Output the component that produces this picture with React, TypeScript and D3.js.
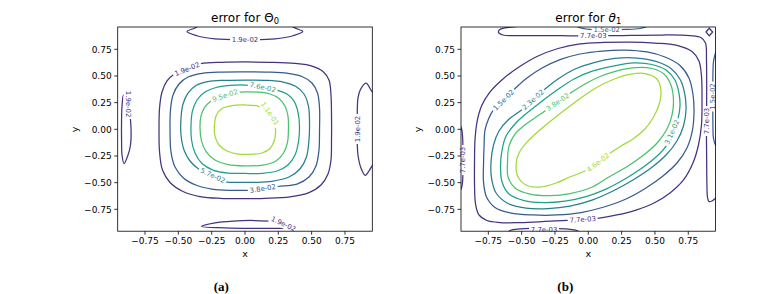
import React from 'react';
import * as d3 from 'd3';

type Pt = [number, number];

// ---------- shared axis data ----------
const xTicks = [-0.75, -0.5, -0.25, 0, 0.25, 0.5, 0.75];
const yTicks = [-0.75, -0.5, -0.25, 0, 0.25, 0.5, 0.75];
const xDomain: Pt = [-0.955, 0.955];
const yDomain: Pt = [-0.955, 0.959];

// ---------- panel (a): error for Theta_0 ----------
const levelsA = [0.019, 0.038, 0.057, 0.076, 0.095, 0.114];
const levelTextA = ['1.9e-02', '3.8e-02', '5.7e-02', '7.6e-02', '9.5e-02', '1.1e-01'];
const vmaxA = 0.133;

const a_c1: Pt[] = [[0, 0.631], [0.1875, 0.628], [0.375, 0.617], [0.5025, 0.593], [0.585, 0.542], [0.63, 0.462], [0.645, 0.322], [0.649, 0.134], [0.649, -0.1], [0.645, -0.288], [0.6225, -0.419], [0.57, -0.522], [0.48, -0.593], [0.3375, -0.633], [0.15, -0.647], [0, -0.65], [-0.1875, -0.647], [-0.3375, -0.63], [-0.465, -0.583], [-0.5625, -0.499], [-0.619, -0.382], [-0.641, -0.213], [-0.645, -0.007], [-0.641, 0.2], [-0.6225, 0.35], [-0.585, 0.453], [-0.525, 0.523], [-0.435, 0.575], [-0.33, 0.616], [-0.1725, 0.628]];
const a_c2: Pt[] = [[0, 0.539], [0.1725, 0.537], [0.3225, 0.525], [0.4275, 0.495], [0.5025, 0.434], [0.544, 0.34], [0.559, 0.2], [0.559, -0.007], [0.555, -0.194], [0.5325, -0.344], [0.48, -0.447], [0.39, -0.513], [0.2475, -0.536], [0.1275, -0.555], [0, -0.572], [-0.1125, -0.572], [-0.2475, -0.56], [-0.36, -0.527], [-0.4575, -0.461], [-0.525, -0.353], [-0.555, -0.213], [-0.5625, -0.007], [-0.559, 0.181], [-0.54, 0.322], [-0.495, 0.425], [-0.4275, 0.49], [-0.3225, 0.525], [-0.1725, 0.537]];
const a_c3: Pt[] = [[0, 0.462], [0.15, 0.459], [0.285, 0.443], [0.3825, 0.401], [0.4425, 0.331], [0.476, 0.218], [0.484, 0.068], [0.48, -0.1], [0.461, -0.26], [0.4125, -0.372], [0.33, -0.447], [0.2025, -0.487], [0.075, -0.497], [-0.0375, -0.497], [-0.1425, -0.492], [-0.242, -0.433], [-0.345, -0.374], [-0.4125, -0.297], [-0.4575, -0.194], [-0.48, -0.053], [-0.48, 0.106], [-0.465, 0.237], [-0.4275, 0.34], [-0.3675, 0.411], [-0.2775, 0.448], [-0.15, 0.459]];
const a_c4: Pt[] = [[0, 0.415], [0.133, 0.395], [0.243, 0.366], [0.315, 0.331], [0.3675, 0.265], [0.3975, 0.162], [0.409, 0.022], [0.401, -0.119], [0.375, -0.241], [0.3225, -0.335], [0.24, -0.391], [0.1275, -0.4125], [0, -0.414], [-0.1275, -0.41], [-0.24, -0.382], [-0.3225, -0.321], [-0.375, -0.222], [-0.401, -0.1], [-0.405, 0.04], [-0.394, 0.172], [-0.36, 0.275], [-0.3, 0.35], [-0.2175, 0.392], [-0.1125, 0.411]];
const a_c5: Pt[] = [[0, 0.35], [0.0975, 0.348], [0.1875, 0.331], [0.255, 0.289], [0.3, 0.218], [0.3225, 0.125], [0.326, 0.012], [0.319, -0.119], [0.289, -0.222], [0.2325, -0.297], [0.135, -0.335], [0, -0.342], [-0.1275, -0.33], [-0.225, -0.288], [-0.289, -0.213], [-0.326, -0.11], [-0.3375, 0.012], [-0.33, 0.125], [-0.304, 0.204], [-0.255, 0.265], [-0.195, 0.3075], [-0.1125, 0.338]];
const a_c6: Pt[] = [[0, 0.228], [0.0975, 0.218], [0.165, 0.181], [0.21, 0.106], [0.229, 0.003], [0.221, -0.1], [0.1875, -0.18], [0.1275, -0.222], [0.0375, -0.234], [-0.0525, -0.232], [-0.135, -0.203], [-0.195, -0.147], [-0.225, -0.063], [-0.229, 0.04], [-0.214, 0.134], [-0.1725, 0.195], [-0.0975, 0.223]];
const a_top: Pt[] = [[-0.2775, 1.043], [-0.3675, 0.954], [-0.435, 0.917], [-0.36, 0.877], [-0.225, 0.848], [0, 0.841], [0.225, 0.848], [0.36, 0.877], [0.433, 0.917], [0.3675, 0.954], [0.2775, 1.043]];
const a_bottom: Pt[] = [[-0.326, -0.911], [-0.225, -0.877], [-0.09, -0.86], [0.075, -0.855], [0.2025, -0.864], [0.3, -0.8925], [0.3525, -0.921], [0.225, -0.928], [0.0375, -0.928], [-0.15, -0.923]];
const a_left: Pt[] = [[-0.911, 0.322], [-0.885, 0.247], [-0.866, 0.153], [-0.855, 0.012], [-0.859, -0.147], [-0.8775, -0.241], [-0.9075, -0.321], [-0.9225, -0.241], [-0.926, -0.1], [-0.926, 0.087], [-0.9225, 0.218]];
const a_right: Pt[] = [[0.9975, 0.293], [0.9525, 0.354], [0.9075, 0.434], [0.866, 0.373], [0.8475, 0.293], [0.842, 0.134], [0.842, 0.003], [0.842, -0.128], [0.8475, -0.241], [0.87, -0.363], [0.902, -0.431], [0.934, -0.382], [0.9525, -0.344], [0.9975, -0.278]];

const contoursA = [
  { level: 0, pts: a_c1, shape: 'closed' },
  { level: 1, pts: a_c2, shape: 'closed' },
  { level: 2, pts: a_c3, shape: 'closed' },
  { level: 3, pts: a_c4, shape: 'closed' },
  { level: 4, pts: a_c5, shape: 'closed' },
  { level: 5, pts: a_c6, shape: 'closed' },
  { level: 0, pts: a_top, shape: 'open' },
  { level: 0, pts: a_bottom, shape: 'closed' },
  { level: 0, pts: a_left, shape: 'closed' },
  { level: 0, pts: a_right, shape: 'open' },
];
const labelsA = [
  { line: 0, at: [-0.435, 0.565] as Pt, angle: -22 },
  { line: 1, at: [0.133, -0.555] as Pt, angle: -9 },
  { line: 2, at: [-0.242, -0.433] as Pt, angle: 25 },
  { line: 3, at: [0.133, 0.395] as Pt, angle: 12 },
  { line: 4, at: [-0.15, 0.317] as Pt, angle: -19 },
  { line: 5, at: [0.1875, 0.148] as Pt, angle: 55 },
  { line: 6, at: [0, 0.84] as Pt, angle: 0 },
  { line: 7, at: [0.289, -0.886] as Pt, angle: 25 },
  { line: 8, at: [-0.8775, 0.237] as Pt, angle: 90 },
  { line: 9, at: [0.842, 0.003] as Pt, angle: -90 },
];

// ---------- panel (b): error for theta_1 ----------
const levelsB = [0.0077, 0.0154, 0.0231, 0.0308, 0.0385, 0.0462];
const levelTextB = ['7.7e-03', '1.5e-02', '2.3e-02', '3.1e-02', '3.8e-02', '4.6e-02'];
const vmaxB = 0.0539;

const b_m1: Pt[] = [[-0.1545, -0.853], [-0.325, -0.864], [-0.512, -0.874], [-0.662, -0.874], [-0.76, -0.855], [-0.82, -0.803], [-0.846, -0.7], [-0.8535, -0.522], [-0.8535, -0.288], [-0.85, -0.1], [-0.835, 0.068], [-0.801, 0.218], [-0.737, 0.35], [-0.64, 0.472], [-0.52, 0.584], [-0.385, 0.6825], [-0.227, 0.7575], [-0.062, 0.8], [0.118, 0.814], [0.313, 0.818], [0.5, 0.809], [0.658, 0.79], [0.778, 0.729], [0.83, 0.64], [0.849, 0.5], [0.853, 0.275], [0.849, 0.04], [0.8265, -0.147], [0.785, -0.316], [0.714, -0.475], [0.613, -0.597], [0.493, -0.691], [0.358, -0.757], [0.215, -0.803], [0.0705, -0.834], [-0.042, -0.844]];
const b_m2: Pt[] = [[-0.5565, 0.374], [-0.46, 0.481], [-0.347, 0.575], [-0.212, 0.654], [-0.062, 0.706], [0.103, 0.734], [0.275, 0.743], [0.44, 0.725], [0.575, 0.678], [0.688, 0.598], [0.755, 0.481], [0.785, 0.331], [0.793, 0.162], [0.7815, -0.007], [0.74, -0.175], [0.665, -0.316], [0.56, -0.438], [0.433, -0.55], [0.283, -0.653], [0.118, -0.728], [-0.055, -0.78], [-0.235, -0.803], [-0.415, -0.803], [-0.58, -0.785], [-0.7, -0.733], [-0.7635, -0.635], [-0.786, -0.494], [-0.786, -0.325], [-0.782, -0.157], [-0.775, -0.007], [-0.7485, 0.097], [-0.7155, 0.175], [-0.636, 0.275]];
const b_m3: Pt[] = [[-0.3315, 0.371], [-0.227, 0.472], [-0.107, 0.561], [0.043, 0.626], [0.2, 0.664], [0.365, 0.668], [0.508, 0.636], [0.62, 0.57], [0.6915, 0.462], [0.725, 0.322], [0.733, 0.181], [0.714, 0.031], [0.665, -0.11], [0.583, -0.241], [0.47, -0.363], [0.335, -0.475], [0.185, -0.578], [0.028, -0.663], [-0.137, -0.719], [-0.302, -0.7425], [-0.467, -0.738], [-0.602, -0.696], [-0.692, -0.597], [-0.726, -0.457], [-0.73, -0.307], [-0.711, -0.147], [-0.67, -0.016], [-0.602, 0.087], [-0.498, 0.184], [-0.415, 0.2775]];
const b_m4: Pt[] = [[0.583, -0.157], [0.508, -0.26], [0.403, -0.363], [0.275, -0.466], [0.133, -0.56], [-0.017, -0.63], [-0.175, -0.672], [-0.332, -0.686], [-0.482, -0.6675], [-0.595, -0.607], [-0.647, -0.494], [-0.6585, -0.344], [-0.647, -0.194], [-0.617, -0.063], [-0.55, 0.05], [-0.46, 0.153], [-0.355, 0.256], [-0.235, 0.368], [-0.107, 0.472], [0.035, 0.547], [0.185, 0.593], [0.343, 0.622], [0.478, 0.6075], [0.583, 0.556], [0.65, 0.462], [0.68, 0.34], [0.688, 0.218], [0.673, 0.103], [0.628, -0.025]];
const b_m5: Pt[] = [[-0.137, 0.337], [-0.025, 0.425], [0.088, 0.495], [0.223, 0.551], [0.358, 0.579], [0.478, 0.57], [0.568, 0.518], [0.62, 0.415], [0.639, 0.275], [0.628, 0.134], [0.59, 0.003], [0.523, -0.119], [0.425, -0.232], [0.298, -0.344], [0.155, -0.447], [0.013, -0.55], [-0.137, -0.602], [-0.287, -0.621], [-0.437, -0.607], [-0.55, -0.55], [-0.602, -0.447], [-0.606, -0.307], [-0.595, -0.157], [-0.55, -0.044], [-0.467, 0.05], [-0.392, 0.115], [-0.322, 0.175], [-0.2295, 0.256]];
const b_m6: Pt[] = [[0.17, -0.2175], [0.245, -0.157], [0.335, -0.091], [0.425, 0.003], [0.485, 0.106], [0.53, 0.228], [0.545, 0.359], [0.515, 0.472], [0.425, 0.523], [0.3125, 0.514], [0.178, 0.462], [0.043, 0.378], [-0.107, 0.247], [-0.235, 0.125], [-0.355, 0.003], [-0.4525, -0.11], [-0.52, -0.222], [-0.542, -0.335], [-0.527, -0.447], [-0.46, -0.527], [-0.362, -0.541], [-0.242, -0.503], [-0.13, -0.4425], [-0.025, -0.391], [0.073, -0.311]];
const b_top1: Pt[] = [[-0.325, 1.006], [-0.512, 0.968], [-0.625, 0.95], [-0.666, 0.933], [-0.6735, 0.9075], [-0.64, 0.884], [-0.437, 0.879], [-0.212, 0.877], [0.035, 0.875], [0.238, 0.879], [0.538, 0.884], [0.763, 0.879], [0.845, 0.861], [0.879, 0.809], [0.8865, 0.65], [0.888, 0.462], [0.888, 0.275], [0.8865, 0.078], [0.8865, -0.1], [0.888, -0.288], [0.89, -0.522], [0.894, -0.635], [0.905, -0.677], [0.928, -0.672], [0.958, -0.644], [1.003, -0.607]];
const b_top2: Pt[] = [[-0.122, 1.006], [-0.077, 0.959], [0.013, 0.936], [0.138, 0.936], [0.275, 0.936], [0.388, 0.945], [0.463, 0.978], [0.508, 1.015]];
const b_corner: Pt[] = [[0.883, 0.912], [0.9075, 0.947], [0.933, 0.912], [0.9075, 0.8775]];
const b_right2: Pt[] = [[1.003, 0.79], [0.958, 0.725], [0.939, 0.631], [0.935, 0.509], [0.934, 0.406], [0.933, 0.3075], [0.934, 0.2], [0.935, 0.04], [0.939, -0.082], [0.958, -0.157], [1.003, -0.213]];
const b_left1: Pt[] = [[-1.0, 0.087], [-0.955, 0.022], [-0.943, -0.072], [-0.941, -0.194], [-0.941, -0.288], [-0.941, -0.4], [-0.9435, -0.494], [-0.955, -0.56], [-1.0, -0.616]];
const b_bottom1: Pt[] = [[-0.64, -1.019], [-0.587, -0.949], [-0.512, -0.933], [-0.422, -0.929], [-0.332, -0.93], [-0.235, -0.931], [-0.137, -0.9375], [-0.077, -0.953], [-0.025, -1.019]];

const contoursB = [
  { level: 0, pts: b_m1, shape: 'closed' },
  { level: 1, pts: b_m2, shape: 'closed' },
  { level: 2, pts: b_m3, shape: 'closed' },
  { level: 3, pts: b_m4, shape: 'closed' },
  { level: 4, pts: b_m5, shape: 'closed' },
  { level: 5, pts: b_m6, shape: 'closed' },
  { level: 0, pts: b_top1, shape: 'open' },
  { level: 1, pts: b_top2, shape: 'open' },
  { level: 0, pts: b_corner, shape: 'poly' },
  { level: 1, pts: b_right2, shape: 'open' },
  { level: 0, pts: b_left1, shape: 'open' },
  { level: 0, pts: b_bottom1, shape: 'open' },
];
const labelsB = [
  { line: 0, at: [-0.042, -0.844] as Pt, angle: -4 },
  { line: 1, at: [-0.636, 0.275] as Pt, angle: -45 },
  { line: 2, at: [-0.415, 0.2775] as Pt, angle: -42 },
  { line: 3, at: [0.628, -0.025] as Pt, angle: -66 },
  { line: 4, at: [-0.2295, 0.256] as Pt, angle: -35 },
  { line: 5, at: [0.073, -0.311] as Pt, angle: -37.5 },
  { line: 6, at: [0.0375, 0.875] as Pt, angle: 0 },
  { line: 6, at: [0.8865, 0.078] as Pt, angle: -90 },
  { line: 7, at: [0.138, 0.936] as Pt, angle: 0 },
  { line: 9, at: [0.933, 0.3075] as Pt, angle: -90 },
  { line: 10, at: [-0.942, -0.288] as Pt, angle: -90 },
  { line: 11, at: [-0.332, -0.9375] as Pt, angle: 0 },
];

// ---------- layout ----------
const TOP = 27;
const W = 254.6;
const H = 204.2;
const FONT = 'DejaVu Sans, sans-serif';

type Contour = { level: number; pts: Pt[]; shape: string };
type Label = { line: number; at: Pt; angle: number };

function fmtTick(v: number) {
  return d3.format('.2f')(v).replace('-', '\u2212');
}

function Panel(props: {
  id: string;
  left: number;
  contours: Contour[];
  labels: Label[];
  levels: number[];
  texts: string[];
  vmax: number;
  title: React.ReactNode;
  sub: string;
  subX: number;
}) {
  const { id, left, contours, labels, levels, texts, vmax, title, sub, subX } = props;
  const x = d3.scaleLinear().domain(xDomain).range([left, left + W]);
  const y = d3.scaleLinear().domain(yDomain).range([TOP + H, TOP]);
  const color = (k: number) => d3.interpolateViridis(levels[k] / vmax);
  const gen = (shape: string) =>
    d3
      .line<Pt>()
      .x((d) => x(d[0]))
      .y((d) => y(d[1]))
      .curve(
        shape === 'closed'
          ? d3.curveCatmullRomClosed.alpha(0.5)
          : shape === 'poly'
          ? d3.curveLinearClosed
          : d3.curveCatmullRom.alpha(0.5)
      );
  const labelFont = 6.9;
  const gapW = 30;
  const gapH = 9;
  const bottom = TOP + H;
  const cx = left + W / 2;
  return (
    <g>
      <defs>
        <clipPath id={`clip-${id}`}>
          <rect x={left} y={TOP} width={W} height={H} />
        </clipPath>
        {contours.map((c, i) => {
          const ls = labels.filter((l) => l.line === i);
          if (!ls.length) return null;
          return (
            <mask id={`m-${id}-${i}`} key={i} maskUnits="userSpaceOnUse" x={0} y={0} width={776} height={294}>
              <rect x={0} y={0} width={776} height={294} fill="white" />
              {ls.map((l, j) => (
                <rect
                  key={j}
                  x={-gapW / 2}
                  y={-gapH / 2}
                  width={gapW}
                  height={gapH}
                  fill="black"
                  transform={`translate(${x(l.at[0])},${y(l.at[1])}) rotate(${l.angle})`}
                />
              ))}
            </mask>
          );
        })}
      </defs>
      <g clipPath={`url(#clip-${id})`}>
        {contours.map((c, i) => {
          const has = labels.some((l) => l.line === i);
          return (
            <path
              key={i}
              d={gen(c.shape)(c.pts) || ''}
              fill="none"
              stroke={color(c.level)}
              strokeWidth={1.25}
              mask={has ? `url(#m-${id}-${i})` : undefined}
            />
          );
        })}
      </g>
      <rect x={left} y={TOP} width={W} height={H} fill="none" stroke="#000" strokeWidth={0.8} />
      {xTicks.map((t) => (
        <g key={`x${t}`}>
          <line x1={x(t)} x2={x(t)} y1={bottom} y2={bottom + 3.5} stroke="#000" strokeWidth={0.8} />
          <text x={x(t)} y={bottom + 13} fontSize={9} textAnchor="middle" fontFamily={FONT}>
            {fmtTick(t)}
          </text>
        </g>
      ))}
      {yTicks.map((t) => (
        <g key={`y${t}`}>
          <line x1={left - 3.5} x2={left} y1={y(t)} y2={y(t)} stroke="#000" strokeWidth={0.8} />
          <text x={left - 6} y={y(t)} dy="0.36em" fontSize={9} textAnchor="end" fontFamily={FONT}>
            {fmtTick(t)}
          </text>
        </g>
      ))}
      {labels.map((l, j) => {
        const c = contours[l.line];
        return (
          <text
            key={`l${j}`}
            transform={`translate(${x(l.at[0])},${y(l.at[1])}) rotate(${l.angle})`}
            fontSize={labelFont}
            textAnchor="middle"
            dy="0.35em"
            fill={color(c.level)}
            fontFamily={FONT}
          >
            {texts[c.level]}
          </text>
        );
      })}
      <text x={cx} y={256.5} fontSize={9.5} textAnchor="middle" fontFamily={FONT}>
        x
      </text>
      <text
        transform={`translate(${left - 42.7},${y(0)}) rotate(-90)`}
        fontSize={9.5}
        textAnchor="middle"
        dy="0.3em"
        fontFamily={FONT}
      >
        y
      </text>
      <text x={cx} y={21.8} fontSize={12} textAnchor="middle" fontFamily={FONT}>
        {title}
      </text>
      <text x={subX} y={290.5} fontSize={13} fontWeight="bold" textAnchor="middle" fontFamily="Liberation Serif, serif">
        {sub}
      </text>
    </g>
  );
}

export default function App() {
  return (
    <div>
      <style>{`body{margin:0;background:#fff}`}</style>
      <svg width={776} height={294} style={{ display: 'block', background: '#fff' }}>
        <Panel
          id="a"
          left={117.7}
          contours={contoursA}
          labels={labelsA}
          levels={levelsA}
          texts={levelTextA}
          vmax={vmaxA}
          sub="(a)"
          subX={221.3}
          title={
            <>
              error for Θ
              <tspan fontSize={8.4} dy={2.4}>
                0
              </tspan>
            </>
          }
        />
        <Panel
          id="b"
          left={461}
          contours={contoursB}
          labels={labelsB}
          levels={levelsB}
          texts={levelTextB}
          vmax={vmaxB}
          sub="(b)"
          subX={565.3}
          title={
            <>
              error for <tspan fontStyle="italic">θ</tspan>
              <tspan fontSize={8.4} dy={2.4}>
                1
              </tspan>
            </>
          }
        />
      </svg>
    </div>
  );
}
